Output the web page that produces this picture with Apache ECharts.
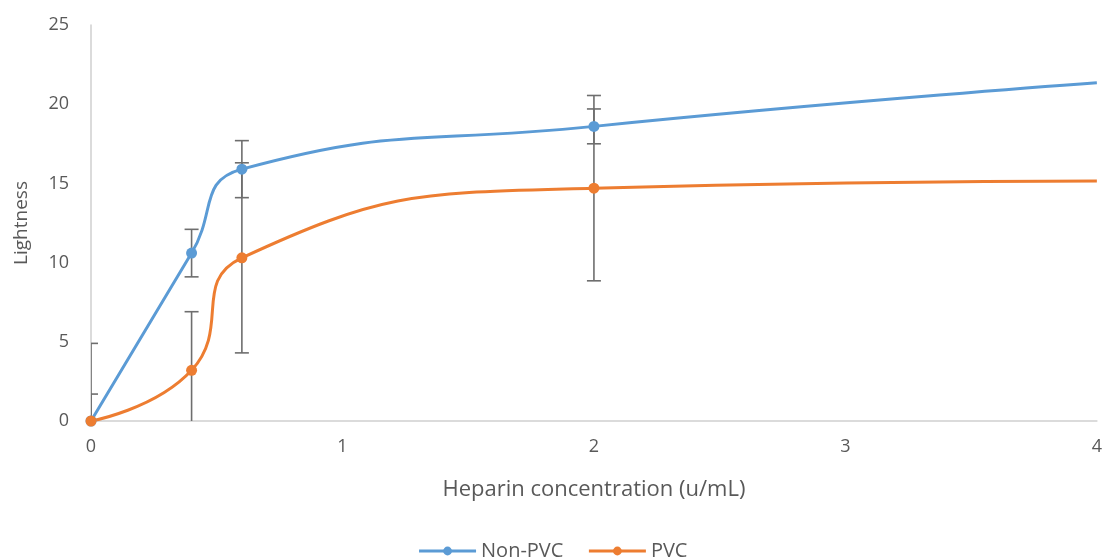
<!DOCTYPE html>
<html>
<head>
<meta charset="utf-8">
<script src="https://cdn.jsdelivr.net/npm/echarts@6/dist/echarts.min.js"></script>
<style>
html,body{margin:0;padding:0;background:#fff;}
#chart{width:1105px;height:559px;}
</style>
</head>
<body>
<div id="chart"></div>
<script>
// Data
const xValues = [0, 0.4, 0.6, 2, 4];
const nonPvc = [0, 10.6, 15.9, 18.6, 21.35];
const pvc = [0, 3.2, 10.3, 14.7, 15.15];
// symmetric error amounts (null = no error bar)
const nonPvcErr = [4.9, 1.5, 1.8, 1.1, null];
const pvcErr = [1.7, 3.7, 6.0, 5.85, null];
const seriesNames = ['Non-PVC', 'PVC'];
const xTicks = [0, 1, 2, 3, 4];
const yTicks = [0, 5, 10, 15, 20, 25];

const colors = ['#5B9BD5', '#ED7D31'];
const txt = '#595959';
const font = '"Open Sans", sans-serif';

function lineData(vals) {
  return xValues.map((x, i) => {
    const item = { value: [x, vals[i]] };
    if (i === xValues.length - 1) item.symbol = 'none';
    return item;
  });
}
function errData(vals, errs) {
  const out = [];
  xValues.forEach((x, i) => {
    if (errs[i] != null) out.push([x, vals[i] - errs[i], vals[i] + errs[i]]);
  });
  return out;
}
function renderErr(params, api) {
  const x = api.value(0);
  const lo = api.coord([x, api.value(1)]);
  const hi = api.coord([x, api.value(2)]);
  const hw = 7;
  const style = { stroke: '#6e6e6e', lineWidth: 1.6 };
  return {
    type: 'group',
    children: [
      { type: 'line', shape: { x1: lo[0], y1: lo[1], x2: hi[0], y2: hi[1] }, style },
      { type: 'line', shape: { x1: lo[0] - hw, y1: lo[1], x2: lo[0] + hw, y2: lo[1] }, style },
      { type: 'line', shape: { x1: hi[0] - hw, y1: hi[1], x2: hi[0] + hw, y2: hi[1] }, style }
    ]
  };
}

const chart = echarts.init(document.getElementById('chart'));
chart.setOption({
  animation: false,
  color: colors,
  textStyle: { fontFamily: font },
  grid: { left: 91, right: 7, top: 25, bottom: 138, containLabel: false },
  legend: {
    data: seriesNames,
    top: 536,
    left: 'center',
    itemWidth: 57,
    itemHeight: 11,
    itemGap: 24,
    lineStyle: { width: 3 },
    textStyle: { color: txt, fontSize: 20, fontFamily: font }
  },
  xAxis: {
    type: 'value',
    min: xTicks[0],
    max: xTicks[xTicks.length - 1],
    interval: 1,
    name: 'Heparin concentration (u/mL)',
    nameLocation: 'middle',
    nameGap: 58,
    nameTextStyle: { color: txt, fontSize: 22, fontFamily: font },
    axisLine: { lineStyle: { color: '#cfcfcf', width: 1.5 } },
    axisTick: { show: false },
    splitLine: { show: false },
    axisLabel: { color: txt, fontSize: 18, margin: 17, fontFamily: font }
  },
  yAxis: {
    type: 'value',
    min: yTicks[0],
    max: yTicks[yTicks.length - 1],
    interval: 5,
    name: 'Lightness',
    nameLocation: 'middle',
    nameGap: 60,
    nameTextStyle: { color: txt, fontSize: 19, fontFamily: font },
    axisLine: { show: true, lineStyle: { color: '#cfcfcf', width: 1.5 } },
    axisTick: { show: false },
    splitLine: { show: false },
    axisLabel: { color: txt, fontSize: 18, margin: 22, fontFamily: font }
  },
  series: [
    {
      name: seriesNames[0], type: 'line', data: lineData(nonPvc),
      smooth: 0.5, symbol: 'circle', symbolSize: 11, z: 3,
      lineStyle: { width: 3, color: colors[0] },
      itemStyle: { color: colors[0] }
    },
    {
      name: seriesNames[1], type: 'line', data: lineData(pvc),
      smooth: 0.5, symbol: 'circle', symbolSize: 11, z: 3,
      lineStyle: { width: 3, color: colors[1] },
      itemStyle: { color: colors[1] }
    },
    {
      name: seriesNames[0] + ' error', type: 'custom', renderItem: renderErr,
      data: errData(nonPvc, nonPvcErr), clip: true, z: 1,
      encode: { x: 0, y: [1, 2] }
    },
    {
      name: seriesNames[1] + ' error', type: 'custom', renderItem: renderErr,
      data: errData(pvc, pvcErr), clip: true, z: 1,
      encode: { x: 0, y: [1, 2] }
    }
  ]
});
</script>
</body>
</html>
